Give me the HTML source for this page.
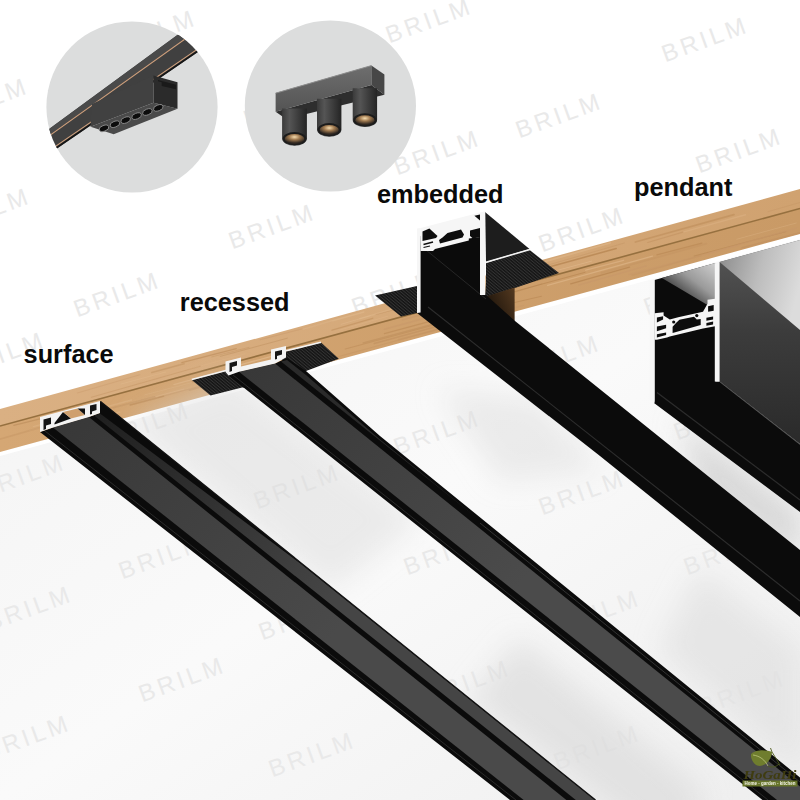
<!DOCTYPE html>
<html><head><meta charset="utf-8"><title>Magnetic track installation types</title>
<style>html,body{margin:0;padding:0;background:#fff}svg{display:block}</style></head>
<body><svg width="800" height="800" viewBox="0 0 800 800">
<defs>
<linearGradient id="ceil" x1="0" y1="0" x2="1" y2="1">
<stop offset="0" stop-color="#f3f3f3"/><stop offset="0.5" stop-color="#fafafa"/><stop offset="1" stop-color="#eeeeee"/></linearGradient>
<linearGradient id="pside" x1="0" y1="0" x2="0" y2="1">
<stop offset="0" stop-color="#585858"/><stop offset="0.45" stop-color="#3c3c3c"/><stop offset="1" stop-color="#2a2a2a"/></linearGradient>
<linearGradient id="ptop" x1="0" y1="0.2" x2="1" y2="0.5">
<stop offset="0" stop-color="#8e8e8e"/><stop offset="0.5" stop-color="#bdbdbd"/><stop offset="1" stop-color="#dcdcdc"/></linearGradient>
<linearGradient id="pin" x1="1" y1="0" x2="0.35" y2="0.75">
<stop offset="0" stop-color="#cfcfcf"/><stop offset="0.55" stop-color="#9a9a9a"/><stop offset="1" stop-color="#3a3a3a"/></linearGradient>
<linearGradient id="woodt" x1="0" y1="0" x2="1" y2="0">
<stop offset="0" stop-color="#dab083"/><stop offset="1" stop-color="#d0a270"/></linearGradient>
<linearGradient id="woodf" x1="0" y1="0" x2="1" y2="0">
<stop offset="0" stop-color="#d5a774"/><stop offset="1" stop-color="#c99a66"/></linearGradient>
<radialGradient id="lamp" cx="0.5" cy="0.3" r="0.6"><stop offset="0" stop-color="#f6dcae"/><stop offset="0.45" stop-color="#a07a50"/><stop offset="1" stop-color="#2e2620"/></radialGradient>
<linearGradient id="cyl" x1="0" y1="0" x2="1" y2="0"><stop offset="0" stop-color="#3a3a3a"/><stop offset="0.3" stop-color="#555555"/><stop offset="1" stop-color="#242424"/></linearGradient>
<linearGradient id="barg" x1="0" y1="0" x2="0" y2="1"><stop offset="0" stop-color="#6e6e6e"/><stop offset="1" stop-color="#545454"/></linearGradient>
<linearGradient id="shade" x1="0" y1="0" x2="1" y2="0.8"><stop offset="0" stop-color="#d9d9d9"/><stop offset="1" stop-color="#f6f6f6"/></linearGradient>
<pattern id="serr" width="2.4" height="8" patternUnits="userSpaceOnUse" patternTransform="rotate(-50)"><rect width="2.4" height="8" fill="#141414"/><rect width="1" height="8" fill="#333"/></pattern>
<filter id="blur" x="-20%" y="-20%" width="140%" height="140%"><feGaussianBlur stdDeviation="14"/></filter>
<linearGradient id="f1" gradientUnits="userSpaceOnUse" x1="60" y1="425" x2="330" y2="640"><stop offset="0" stop-color="#383838"/><stop offset="1" stop-color="#4a4a4a"/></linearGradient>
<linearGradient id="s1" gradientUnits="userSpaceOnUse" x1="97" y1="414" x2="330" y2="600"><stop offset="0" stop-color="#1f1f1f"/><stop offset="1" stop-color="#454545"/></linearGradient>
<linearGradient id="f2" gradientUnits="userSpaceOnUse" x1="250" y1="368" x2="520" y2="585"><stop offset="0" stop-color="#383838"/><stop offset="1" stop-color="#4b4b4b"/></linearGradient>
<linearGradient id="cutg" x1="1" y1="0" x2="0" y2="0.6"><stop offset="0" stop-color="#553a20"/><stop offset="1" stop-color="#1a120a"/></linearGradient>
<clipPath id="c1"><circle cx="132" cy="107" r="85.6"/></clipPath>
<clipPath id="c2"><circle cx="330.4" cy="106" r="85.6"/></clipPath>
</defs>
<rect width="800" height="800" fill="#ffffff"/>
<polygon points="0.0,452.0 800.0,234.0 800.0,800.0 0.0,800.0" fill="url(#ceil)" />
<polygon points="0.0,452.0 800.0,234.0 800.0,239.0 0.0,456.0" fill="#ffffff" />
<g font-family="'Liberation Sans',sans-serif" font-size="24" fill="#e9e9e9" letter-spacing="3.5" text-anchor="middle">
<text transform="translate(156,40) rotate(-20)">BRILM</text>
<text transform="translate(432,28) rotate(-20)">BRILM</text>
<text transform="translate(708,47) rotate(-20)">BRILM</text>
<text transform="translate(-12,108) rotate(-20)">BRILM</text>
<text transform="translate(290,112) rotate(-20)">BRILM</text>
<text transform="translate(562,123) rotate(-20)">BRILM</text>
<text transform="translate(155,152) rotate(-20)">BRILM</text>
<text transform="translate(440,160) rotate(-20)">BRILM</text>
<text transform="translate(742,158) rotate(-20)">BRILM</text>
<text transform="translate(-10,218) rotate(-20)">BRILM</text>
<text transform="translate(275,234) rotate(-20)">BRILM</text>
<text transform="translate(585,237) rotate(-20)">BRILM</text>
<text transform="translate(120,302) rotate(-20)">BRILM</text>
<text transform="translate(398,300) rotate(-20)">BRILM</text>
<text transform="translate(690,300) rotate(-20)">BRILM</text>
<text transform="translate(5,362) rotate(-20)">BRILM</text>
<text transform="translate(300,352) rotate(-20)">BRILM</text>
<text transform="translate(560,365) rotate(-20)">BRILM</text>
<text transform="translate(150,432) rotate(-20)">BRILM</text>
<text transform="translate(440,440) rotate(-20)">BRILM</text>
<text transform="translate(720,425) rotate(-20)">BRILM</text>
<text transform="translate(25,484) rotate(-20)">BRILM</text>
<text transform="translate(300,494) rotate(-20)">BRILM</text>
<text transform="translate(585,500) rotate(-20)">BRILM</text>
<text transform="translate(165,564) rotate(-20)">BRILM</text>
<text transform="translate(450,560) rotate(-20)">BRILM</text>
<text transform="translate(730,560) rotate(-20)">BRILM</text>
<text transform="translate(32,616) rotate(-20)">BRILM</text>
<text transform="translate(305,625) rotate(-20)">BRILM</text>
<text transform="translate(600,620) rotate(-20)">BRILM</text>
<text transform="translate(185,687) rotate(-20)">BRILM</text>
<text transform="translate(470,690) rotate(-20)">BRILM</text>
<text transform="translate(745,700) rotate(-20)">BRILM</text>
<text transform="translate(30,745) rotate(-20)">BRILM</text>
<text transform="translate(315,762) rotate(-20)">BRILM</text>
<text transform="translate(600,755) rotate(-20)">BRILM</text>
</g>
<polygon points="0.0,409.0 800.0,189.0 800.0,208.5 0.0,426.0" fill="url(#woodt)" />
<polygon points="0.0,426.0 800.0,208.5 800.0,234.0 0.0,452.0" fill="url(#woodf)" />
<line x1="0.0" y1="426.0" x2="800.0" y2="208.5" stroke="#96703f" stroke-width="1.6" />
<g stroke-linecap="round">
<line x1="239.1" y1="365.1" x2="276.9" y2="354.9" stroke="#e3bc90" stroke-width="1.34" opacity="0.67"/>
<line x1="151.8" y1="372.5" x2="184.1" y2="363.7" stroke="#b98a58" stroke-width="1.61" opacity="0.39"/>
<line x1="158.6" y1="397.5" x2="236.9" y2="376.0" stroke="#c29261" stroke-width="0.75" opacity="0.65"/>
<line x1="211.7" y1="356.9" x2="248.9" y2="347.4" stroke="#c29261" stroke-width="0.81" opacity="0.55"/>
<line x1="130.3" y1="405.0" x2="163.6" y2="396.2" stroke="#b5834f" stroke-width="1.45" opacity="0.50"/>
<line x1="231.3" y1="372.0" x2="306.1" y2="352.4" stroke="#c8986a" stroke-width="1.56" opacity="0.38"/>
<line x1="220.2" y1="356.4" x2="287.3" y2="338.2" stroke="#b98a58" stroke-width="0.83" opacity="0.50"/>
<line x1="585.7" y1="270.2" x2="623.6" y2="260.3" stroke="#dfb588" stroke-width="1.33" opacity="0.66"/>
<line x1="231.0" y1="377.9" x2="315.1" y2="355.0" stroke="#b98a58" stroke-width="1.74" opacity="0.52"/>
<line x1="511.3" y1="303.2" x2="541.5" y2="296.2" stroke="#b5834f" stroke-width="1.01" opacity="0.49"/>
<line x1="514.9" y1="292.2" x2="541.8" y2="283.9" stroke="#b98a58" stroke-width="0.94" opacity="0.45"/>
<line x1="570.7" y1="283.9" x2="629.5" y2="267.2" stroke="#b5834f" stroke-width="1.3" opacity="0.66"/>
<line x1="635.4" y1="242.0" x2="733.9" y2="214.6" stroke="#b5834f" stroke-width="1.75" opacity="0.40"/>
<line x1="121.0" y1="384.1" x2="165.7" y2="372.0" stroke="#e3bc90" stroke-width="1.01" opacity="0.40"/>
<line x1="407.7" y1="300.7" x2="484.5" y2="280.5" stroke="#dfb588" stroke-width="1.42" opacity="0.61"/>
<line x1="345.3" y1="349.0" x2="444.3" y2="322.2" stroke="#b5834f" stroke-width="1.14" opacity="0.39"/>
<line x1="487.4" y1="279.9" x2="517.7" y2="270.8" stroke="#e3bc90" stroke-width="1.36" opacity="0.39"/>
<line x1="433.4" y1="323.7" x2="504.0" y2="303.5" stroke="#c29261" stroke-width="1.38" opacity="0.40"/>
<line x1="181.8" y1="362.7" x2="236.3" y2="348.6" stroke="#b5834f" stroke-width="1.23" opacity="0.46"/>
<line x1="95.3" y1="412.7" x2="184.0" y2="389.0" stroke="#dfb588" stroke-width="0.73" opacity="0.68"/>
<line x1="402.6" y1="319.7" x2="440.1" y2="309.6" stroke="#c8986a" stroke-width="1.65" opacity="0.59"/>
<line x1="188.9" y1="369.2" x2="245.1" y2="353.8" stroke="#dfb588" stroke-width="1.06" opacity="0.43"/>
<line x1="629.2" y1="274.5" x2="737.9" y2="245.8" stroke="#c8986a" stroke-width="1.58" opacity="0.42"/>
<line x1="374.2" y1="343.5" x2="461.4" y2="319.7" stroke="#c29261" stroke-width="1.46" opacity="0.68"/>
<line x1="337.8" y1="356.8" x2="442.4" y2="328.1" stroke="#c29261" stroke-width="0.81" opacity="0.51"/>
<line x1="250.2" y1="373.4" x2="316.2" y2="354.2" stroke="#c8986a" stroke-width="1.08" opacity="0.58"/>
<line x1="647.7" y1="242.5" x2="682.9" y2="232.1" stroke="#c29261" stroke-width="1.18" opacity="0.57"/>
<line x1="49.4" y1="424.8" x2="154.8" y2="396.8" stroke="#b98a58" stroke-width="1.5" opacity="0.41"/>
<line x1="81.6" y1="423.3" x2="119.5" y2="412.1" stroke="#dfb588" stroke-width="1.78" opacity="0.58"/>
<line x1="260.3" y1="339.7" x2="332.0" y2="321.2" stroke="#c8986a" stroke-width="0.81" opacity="0.61"/>
<line x1="91.4" y1="397.3" x2="200.3" y2="366.3" stroke="#c29261" stroke-width="1.02" opacity="0.43"/>
<line x1="449.1" y1="289.4" x2="496.2" y2="277.5" stroke="#e3bc90" stroke-width="1.69" opacity="0.58"/>
<line x1="632.0" y1="275.3" x2="701.0" y2="255.7" stroke="#c29261" stroke-width="1.28" opacity="0.36"/>
<line x1="332.1" y1="330.2" x2="372.7" y2="318.3" stroke="#b5834f" stroke-width="1.38" opacity="0.39"/>
<line x1="29.4" y1="430.6" x2="112.4" y2="408.8" stroke="#dfb588" stroke-width="0.76" opacity="0.42"/>
<line x1="13.8" y1="425.3" x2="47.1" y2="417.2" stroke="#b98a58" stroke-width="1.19" opacity="0.56"/>
<line x1="384.4" y1="333.6" x2="453.0" y2="315.1" stroke="#b5834f" stroke-width="1.26" opacity="0.44"/>
<line x1="398.6" y1="339.6" x2="498.0" y2="313.6" stroke="#c29261" stroke-width="1.62" opacity="0.40"/>
<line x1="77.3" y1="392.9" x2="139.9" y2="374.7" stroke="#c8986a" stroke-width="1.03" opacity="0.39"/>
<line x1="601.5" y1="272.8" x2="706.4" y2="243.7" stroke="#c29261" stroke-width="1.76" opacity="0.43"/>
<line x1="742.0" y1="247.8" x2="800.9" y2="232.6" stroke="#c29261" stroke-width="1.48" opacity="0.70"/>
<line x1="303.0" y1="329.0" x2="363.9" y2="312.0" stroke="#e3bc90" stroke-width="1.31" opacity="0.50"/>
<line x1="-5.5" y1="440.8" x2="47.6" y2="425.3" stroke="#c29261" stroke-width="1.77" opacity="0.39"/>
<line x1="192.5" y1="381.9" x2="220.8" y2="373.3" stroke="#b5834f" stroke-width="1.63" opacity="0.59"/>
<line x1="736.8" y1="239.2" x2="796.3" y2="223.0" stroke="#e3bc90" stroke-width="0.8" opacity="0.37"/>
<line x1="530.6" y1="277.6" x2="591.7" y2="261.1" stroke="#e3bc90" stroke-width="0.79" opacity="0.65"/>
<line x1="33.3" y1="426.6" x2="131.6" y2="400.0" stroke="#e3bc90" stroke-width="1.38" opacity="0.37"/>
<line x1="547.6" y1="285.3" x2="652.4" y2="256.1" stroke="#e3bc90" stroke-width="1.39" opacity="0.54"/>
<line x1="144.7" y1="394.9" x2="207.6" y2="378.5" stroke="#e3bc90" stroke-width="0.74" opacity="0.36"/>
<line x1="384.5" y1="329.2" x2="492.7" y2="299.7" stroke="#c8986a" stroke-width="1.6" opacity="0.50"/>
<line x1="376.0" y1="314.4" x2="471.9" y2="288.5" stroke="#c29261" stroke-width="1.08" opacity="0.64"/>
<line x1="545.4" y1="265.8" x2="624.4" y2="243.0" stroke="#c29261" stroke-width="0.72" opacity="0.57"/>
<line x1="683.9" y1="231.9" x2="745.5" y2="214.7" stroke="#dfb588" stroke-width="1.44" opacity="0.45"/>
<line x1="173.8" y1="384.6" x2="223.7" y2="370.9" stroke="#e3bc90" stroke-width="1.1" opacity="0.47"/>
<line x1="767.9" y1="211.7" x2="820.4" y2="196.6" stroke="#c29261" stroke-width="0.7" opacity="0.48"/>
<line x1="359.7" y1="318.8" x2="427.4" y2="299.0" stroke="#e3bc90" stroke-width="1.6" opacity="0.40"/>
<line x1="449.4" y1="295.8" x2="507.9" y2="278.8" stroke="#dfb588" stroke-width="1.64" opacity="0.40"/>
<line x1="694.2" y1="256.0" x2="785.9" y2="231.6" stroke="#b5834f" stroke-width="0.86" opacity="0.60"/>
<line x1="494.6" y1="312.9" x2="523.3" y2="305.4" stroke="#c8986a" stroke-width="1.47" opacity="0.53"/>
<line x1="707.9" y1="253.3" x2="796.9" y2="228.0" stroke="#c8986a" stroke-width="1.34" opacity="0.66"/>
<line x1="526.3" y1="266.9" x2="610.2" y2="243.0" stroke="#e3bc90" stroke-width="1.76" opacity="0.48"/>
<line x1="341.1" y1="324.3" x2="370.4" y2="315.6" stroke="#e3bc90" stroke-width="0.7" opacity="0.63"/>
<line x1="578.6" y1="285.2" x2="646.4" y2="265.8" stroke="#c8986a" stroke-width="1.22" opacity="0.63"/>
<line x1="656.9" y1="254.9" x2="701.9" y2="243.1" stroke="#b5834f" stroke-width="1.24" opacity="0.48"/>
<line x1="363.2" y1="342.8" x2="446.3" y2="320.6" stroke="#b98a58" stroke-width="1.36" opacity="0.47"/>
<line x1="501.2" y1="295.2" x2="585.1" y2="272.3" stroke="#b5834f" stroke-width="1.0" opacity="0.59"/>
<line x1="533.7" y1="271.2" x2="616.2" y2="248.5" stroke="#b5834f" stroke-width="1.54" opacity="0.70"/>
<line x1="419.3" y1="302.1" x2="470.8" y2="287.4" stroke="#b98a58" stroke-width="1.6" opacity="0.69"/>
<line x1="339.6" y1="330.1" x2="387.4" y2="316.3" stroke="#dfb588" stroke-width="0.8" opacity="0.61"/>
<line x1="189.4" y1="390.3" x2="245.0" y2="374.7" stroke="#b98a58" stroke-width="1.47" opacity="0.43"/>
</g>
<circle cx="132" cy="107" r="85.6" fill="#dcdddd"/>
<circle cx="330.4" cy="106" r="85.6" fill="#dcdddd"/>
<g clip-path="url(#c1)">
<polygon points="40.0,135.7 215.0,7.4 238.0,24.5 40.0,160.0" fill="#404040" />
<polygon points="40.0,135.7 215.0,7.4 222.0,12.7 40.0,142.4" fill="#4a4a4a" />
<line x1="40.0" y1="142.4" x2="222.0" y2="12.7" stroke="#d0a07c" stroke-width="1.1" />
<line x1="40.0" y1="157.0" x2="236.0" y2="22.8" stroke="#d0a07c" stroke-width="1.1" />
<polygon points="40.0,158.0 236.5,23.6 238.0,24.5 40.0,160.0" fill="#151515" />
<polygon points="92.0,104.0 153.5,75.5 153.5,102.8 90.5,126.8" fill="#414141" />
<polygon points="90.5,126.8 153.5,102.8 177.5,108.8 113.7,134.3" fill="#4a4a4a" />
<polygon points="153.5,75.5 177.5,82.2 177.5,108.8 153.5,102.8" fill="#2b2b2b" />
<polygon points="158.0,80.0 176.0,84.8 176.0,89.3 161.7,86.0 161.7,82.2 158.0,81.2" fill="#1a1a1a" />
<ellipse cx="104.0" cy="128.3" rx="5" ry="2.9" fill="#0c0c0c" stroke="#8a8a8a" stroke-width="0.9" transform="rotate(-20 104.0 128.3)"/>
<ellipse cx="114.9" cy="124.2" rx="5" ry="2.9" fill="#0c0c0c" stroke="#8a8a8a" stroke-width="0.9" transform="rotate(-20 114.9 124.2)"/>
<ellipse cx="125.7" cy="120.1" rx="5" ry="2.9" fill="#0c0c0c" stroke="#8a8a8a" stroke-width="0.9" transform="rotate(-20 125.7 120.1)"/>
<ellipse cx="136.6" cy="116.1" rx="5" ry="2.9" fill="#0c0c0c" stroke="#8a8a8a" stroke-width="0.9" transform="rotate(-20 136.6 116.1)"/>
<ellipse cx="147.4" cy="112.0" rx="5" ry="2.9" fill="#0c0c0c" stroke="#8a8a8a" stroke-width="0.9" transform="rotate(-20 147.4 112.0)"/>
<ellipse cx="158.3" cy="107.9" rx="5" ry="2.9" fill="#0c0c0c" stroke="#8a8a8a" stroke-width="0.9" transform="rotate(-20 158.3 107.9)"/>
</g>
<g clip-path="url(#c2)">
<polygon points="275.6,111.7 371.4,84.9 384.4,94.7 286.1,119.1" fill="#2e2e2e" />
<polygon points="275.6,93.1 371.4,65.4 371.4,84.9 275.6,111.7" fill="url(#barg)" />
<polygon points="371.4,65.4 384.4,74.4 384.4,94.7 371.4,84.9" fill="#474747" />
<line x1="275.6" y1="93.2" x2="371.4" y2="65.6" stroke="#8c8c8c" stroke-width="1" />
<path d="M282.1,108.5 L306.9,108.5 L306.9,138.6 A12.4,7.2 0 0 1 282.1,138.6 Z" fill="url(#cyl)"/>
<ellipse cx="294.5" cy="138.6" rx="11.8" ry="6.6" fill="#1c1c1c"/>
<ellipse cx="294.5" cy="139.0" rx="9.8" ry="5" fill="url(#lamp)"/>
<path d="M317.0,98.7 L341.4,98.7 L341.4,129.6 A12.2,7.2 0 0 1 317.0,129.6 Z" fill="url(#cyl)"/>
<ellipse cx="329.2" cy="129.6" rx="11.6" ry="6.6" fill="#1c1c1c"/>
<ellipse cx="329.2" cy="130.0" rx="9.6" ry="5" fill="url(#lamp)"/>
<path d="M352.7,88.2 L377.1,88.2 L377.1,119.9 A12.2,7.2 0 0 1 352.7,119.9 Z" fill="url(#cyl)"/>
<ellipse cx="364.9" cy="119.9" rx="11.6" ry="6.6" fill="#1c1c1c"/>
<ellipse cx="364.9" cy="120.3" rx="9.6" ry="5" fill="url(#lamp)"/>
</g>
<g font-family="'Liberation Sans',sans-serif" font-weight="bold" font-size="25.3" fill="#0a0a0a">
<text x="23.6" y="363.4">surface</text>
<text x="179.8" y="311">recessed</text>
<text x="377" y="203.2">embedded</text>
<text x="634" y="195.6">pendant</text>
</g>
<g filter="url(#blur)">
<polygon points="130.0,423.0 229.0,376.0 420.0,520.0 330.0,590.0" fill="#dcdcdc" opacity="0.5"/>
<polygon points="520.0,640.0 700.0,790.0 700.0,830.0 640.0,830.0 470.0,700.0" fill="#dcdcdc" opacity="0.7"/>
<polygon points="440.0,390.0 540.0,400.0 600.0,470.0 500.0,480.0" fill="#dedede" opacity="0.55"/>
<polygon points="700.0,570.0 800.0,650.0 800.0,770.0 660.0,650.0" fill="#dedede" opacity="0.6"/>
<polygon points="680.0,420.0 800.0,512.0 800.0,560.0 700.0,490.0" fill="#cfcfcf" opacity="0.8"/>
</g>
<polygon points="40.0,432.0 53.0,427.5 88.8,417.0 100.0,413.0 100.0,401.0 595.5,800.0 510.0,800.0" fill="#0b0b0b" />
<polygon points="53.0,427.5 88.8,417.0 566.4,800.0 523.7,800.0" fill="url(#f1)" />
<polygon points="93.8,415.3 100.0,413.5 300.0,563.2 594.6,800.0 575.8,800.0" fill="url(#s1)" />
<line x1="45.0" y1="431.0" x2="516.0" y2="800.0" stroke="#2e2e2e" stroke-width="0.9" />
<line x1="100.5" y1="401.5" x2="595.5" y2="800.0" stroke="#121212" stroke-width="1.3" />
<polygon points="40.0,417.0 100.0,401.0 100.0,413.0 88.8,417.0 53.0,427.5 40.0,432.0" fill="#f3f3f3" />
<polygon points="43.5,419.5 51.0,417.5 51.0,424.0 46.0,425.5 46.0,429.0 43.5,430.0" fill="#151515" />
<polygon points="54.5,423.0 63.0,412.0 71.0,418.5 54.5,424.5" fill="#101010" />
<polygon points="63.0,412.0 77.5,408.5 85.0,415.0 71.0,418.5" fill="#cfa06e" />
<polygon points="77.5,408.5 85.0,408.5 85.0,415.0" fill="#101010" />
<polygon points="90.0,405.5 96.5,404.0 96.5,410.0 92.0,411.5 92.0,414.0 90.0,414.5" fill="#151515" />
<polygon points="191.8,380.0 226.0,371.0 240.0,371.0 252.0,388.0 242.0,387.5 210.5,395.5" fill="url(#serr)" />
<polygon points="284.0,352.0 321.0,342.5 338.8,358.8 306.0,371.0 300.0,372.0 282.0,360.0" fill="url(#serr)" />
<line x1="191.8" y1="379.6" x2="226.0" y2="370.6" stroke="#f3f3f3" stroke-width="1.6" />
<line x1="286.0" y1="350.8" x2="321.0" y2="342.3" stroke="#f3f3f3" stroke-width="1.6" />
<polygon points="228.5,375.5 239.0,371.8 275.0,363.5 287.0,358.0 306.0,371.0 380.0,436.0 800.0,777.6 800.0,800.0 762.5,800.0" fill="#0b0b0b" />
<polygon points="239.0,371.8 275.0,363.5 800.0,786.5 800.0,800.0 777.0,800.0" fill="url(#f2)" />
<polygon points="281.0,361.5 287.0,360.0 306.0,375.0 380.0,439.5 480.0,520.5" fill="#2a2a2a" />
<line x1="233.0" y1="375.0" x2="768.0" y2="800.0" stroke="#2e2e2e" stroke-width="0.9" />
<line x1="480.0" y1="523.0" x2="800.0" y2="782.0" stroke="#333333" stroke-width="1.0" />
<polygon points="225.5,361.5 241.0,357.5 241.0,366.5 271.0,359.5 271.0,349.5 286.0,346.0 286.0,357.5 275.0,363.5 239.0,371.8 228.5,375.5 225.5,372.0" fill="#f3f3f3" />
<polygon points="229.5,363.0 237.0,361.0 237.0,365.5 232.0,367.0 232.0,371.0 229.5,372.0" fill="#151515" />
<polygon points="275.0,351.5 282.0,350.0 282.0,354.5 277.0,356.0 277.0,359.0 275.0,359.5" fill="#151515" />
<polygon points="375.0,295.5 417.0,286.0 417.0,313.0 401.0,316.5" fill="url(#serr)" />
<polygon points="486.0,263.0 529.0,249.5 559.0,273.0 515.0,288.0 486.0,297.0" fill="url(#serr)" />
<polygon points="486.0,296.5 514.6,287.5 514.6,323.0 486.0,299.0" fill="url(#cutg)" />
<polygon points="485.0,212.0 529.5,249.0 486.0,262.0" fill="#1d1d1d" />
<line x1="486.0" y1="262.3" x2="530.0" y2="249.5" stroke="#f3f3f3" stroke-width="1.6" />
<polygon points="420.5,236.0 480.0,222.0 486.0,295.0 515.0,321.0 800.0,550.0 800.0,617.0 600.0,456.0 417.0,313.0" fill="#0b0b0b" />
<line x1="428.0" y1="307.0" x2="800.0" y2="601.0" stroke="#2d2d2d" stroke-width="1.1" />
<line x1="426.0" y1="250.0" x2="486.0" y2="299.0" stroke="#262626" stroke-width="1" />
<polygon points="417.0,228.6 420.6,228.0 420.6,312.5 417.0,313.0" fill="#f6f6f6" />
<polygon points="480.0,212.5 485.3,211.3 485.3,295.0 480.0,295.0" fill="#f6f6f6" />
<polygon points="420.6,228.0 480.0,212.5 480.0,237.0 468.8,238.5 468.8,240.5 435.0,249.0 433.0,251.0 420.6,251.0" fill="#f6f6f6" />
<polygon points="422.5,231.5 429.4,228.5 437.5,236.0 436.0,238.0 422.5,241.0" fill="#0d0d0d" />
<polygon points="442.5,237.5 447.5,233.0 461.0,229.5 464.0,234.5 462.5,237.5 440.0,243.5 439.0,240.0" fill="#0d0d0d" />
<polygon points="470.0,230.6 480.0,228.0 480.0,237.0 473.0,238.5 470.0,236.0" fill="#0d0d0d" />
<polygon points="474.4,215.8 480.0,214.4 480.0,220.6" fill="#0d0d0d" />
<line x1="423.5" y1="244.5" x2="433.0" y2="242.0" stroke="#0d0d0d" stroke-width="1.4" />
<line x1="423.5" y1="247.5" x2="430.0" y2="246.0" stroke="#0d0d0d" stroke-width="1.2" />
<polygon points="654.5,280.0 715.5,263.0 715.5,381.6 720.0,381.6 800.0,444.0 800.0,512.0 654.0,403.0 654.5,400.0" fill="#0b0b0b" />
<polygon points="661.9,278.1 715.1,263.0 715.1,309.6" fill="url(#pin)" />
<polygon points="649.8,280.6 654.6,279.6 654.6,403.0 649.8,399.5" fill="#f6f6f6" />
<polygon points="714.8,263.2 719.6,262.0 719.6,381.6 714.8,381.6" fill="#f6f6f6" />
<polygon points="654.6,313.3 663.6,312.2 663.6,315.6 669.8,319.5 678.2,317.2 696.2,313.3 703.0,311.8 707.5,303.7 707.5,299.8 715.1,298.7 715.1,326.2 703.0,328.5 669.8,336.4 667.0,337.5 656.9,339.7 654.6,339.7" fill="#f6f6f6" />
<polygon points="656.9,317.5 663.1,316.2 663.1,319.5 656.9,322.4" fill="#0d0d0d" />
<polygon points="656.9,326.5 666.1,324.7 666.1,328.3 656.9,331.3" fill="#0d0d0d" />
<polygon points="656.9,334.3 666.1,332.5 666.1,335.0 656.9,337.5" fill="#0d0d0d" />
<polygon points="672.6,326.8 676.0,323.1 679.4,319.7 694.0,316.7 696.8,319.5 700.7,319.0 700.7,324.9 672.6,333.0" fill="#0d0d0d" />
<polygon points="708.1,306.2 713.7,305.1 713.7,310.7 708.1,311.8" fill="#0d0d0d" />
<polygon points="706.4,317.8 713.1,316.6 713.1,319.5 706.4,320.8" fill="#0d0d0d" />
<polygon points="706.4,322.9 713.1,321.5 713.1,324.4 706.4,325.8" fill="#0d0d0d" />
<circle cx="673.7" cy="322.0" r="1.6" fill="#0d0d0d"/>
<circle cx="696.8" cy="315.6" r="1.6" fill="#0d0d0d"/>
<polygon points="719.6,262.0 800.0,240.0 800.0,444.0 719.6,381.6" fill="url(#pside)" />
<polygon points="719.6,262.0 800.0,240.0 800.0,330.0" fill="url(#ptop)" />
<line x1="720.0" y1="382.0" x2="800.0" y2="444.5" stroke="#5a5a5a" stroke-width="0.8" />
<line x1="657.0" y1="392.5" x2="800.0" y2="500.0" stroke="#2c2c2c" stroke-width="1.2" />
<g>
<path d="M751,754 C757,748.5 767,750 772,752 C772,759 765,768 757,765.5 C752.5,763 750.5,758 751,754 Z" fill="#6f7d2e"/>
<path d="M753,755 C760,756 765,760 768,766" fill="none" stroke="#c9d08a" stroke-width="0.7"/>
<path d="M770.5,748 L772,752 M772,752 L780,765 M768,766 C772,768 776,767 779,764" fill="none" stroke="#4d5a1c" stroke-width="0.9"/>
<text x="743.5" y="779" textLength="53" lengthAdjust="spacingAndGlyphs" font-family="'Liberation Serif',serif" font-size="12.5" font-weight="bold" font-style="italic" fill="#3f3c10">HoGaHi</text>
<rect x="742.5" y="780.5" width="55" height="6" fill="#66742a"/>
<text x="744.5" y="785.4" textLength="51" lengthAdjust="spacingAndGlyphs" font-size="5" font-weight="bold" font-family="'Liberation Sans',sans-serif" fill="#f4f4e8">Home - garden - kitchen</text>
</g>
</svg></body></html>
